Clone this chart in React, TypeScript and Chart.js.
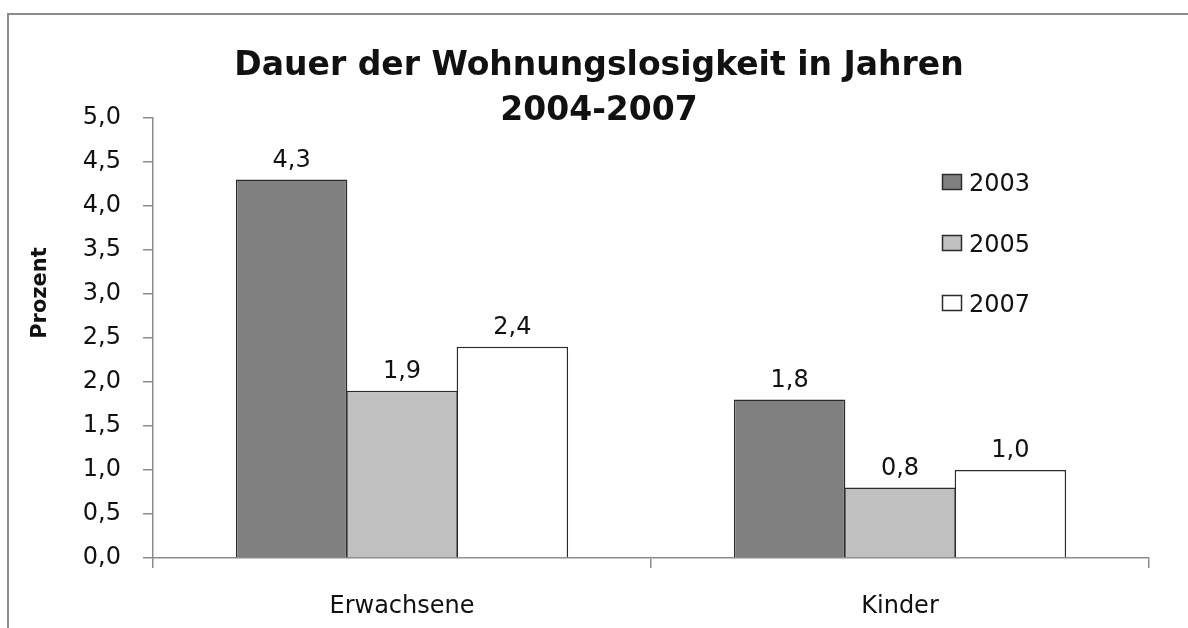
import React, { useEffect, useRef } from 'react';
import { Chart, registerables } from 'chart.js';

Chart.register(...registerables);

// ---- data ----
const categories = ['Erwachsene', 'Kinder'];
const seriesLabels = ['2003', '2005', '2007'];
const values2003 = [4.3, 1.8];
const values2005 = [1.9, 0.8];
const values2007 = [2.4, 1.0];
const titleLines = ['Dauer der Wohnungslosigkeit in Jahren', '2004-2007'];
const yAxisTitle = 'Prozent';
const yMin = 0;
const yMax = 5;
const yStep = 0.5;
const seriesColors = ['#808080', '#c0c0c0', '#ffffff'];

const FONT = '"DejaVu Sans", sans-serif';
const AXIS_COLOR = '#8c8c8c';
const TEXT_COLOR = '#111111';
const fmt = (v: number) => v.toFixed(1).replace('.', ',');

const decorPlugin = {
  id: 'decor',
  beforeDraw(chart: any) {
    const ctx = chart.ctx as CanvasRenderingContext2D;
    ctx.save();
    ctx.fillStyle = '#ffffff';
    ctx.fillRect(0, 0, chart.width, chart.height);
    ctx.fillStyle = '#8a8a8a';
    ctx.fillRect(7, 13, 2, chart.height);
    ctx.fillRect(7, 13, chart.width, 2);
    ctx.restore();
  },
  afterDraw(chart: any) {
    const ctx = chart.ctx as CanvasRenderingContext2D;
    ctx.save();
    // title
    ctx.fillStyle = TEXT_COLOR;
    ctx.textAlign = 'center';
    ctx.textBaseline = 'alphabetic';
    ctx.font = `bold 33px ${FONT}`;
    ctx.fillText(titleLines[0], 599, 75);
    ctx.fillText(titleLines[1], 599, 120);

    // y axis title
    ctx.save();
    ctx.translate(41, 293);
    ctx.rotate(-Math.PI / 2);
    ctx.font = `bold 21px ${FONT}`;
    ctx.textBaseline = 'middle';
    ctx.fillText(yAxisTitle, 0, 0);
    ctx.restore();

    // data labels
    ctx.font = `24px ${FONT}`;
    ctx.textAlign = 'center';
    ctx.textBaseline = 'alphabetic';
    chart.data.datasets.forEach((ds: any, di: number) => {
      const meta = chart.getDatasetMeta(di);
      meta.data.forEach((el: any, i: number) => {
        ctx.fillText(fmt(ds.data[i]), el.x, el.y - 13);
      });
    });

    // legend
    const legendY = [182, 243, 303];
    chart.data.datasets.forEach((ds: any, di: number) => {
      const cy = legendY[di];
      ctx.fillStyle = ds.backgroundColor;
      ctx.fillRect(942, cy - 8, 20, 16);
      ctx.strokeStyle = '#2b2b2b';
      ctx.lineWidth = 1.5;
      ctx.strokeRect(942.5, cy - 7.5, 19, 15);
      ctx.fillStyle = TEXT_COLOR;
      ctx.textAlign = 'left';
      ctx.fillText(ds.label, 969, cy + 9);
    });
    ctx.restore();
  },
};

export default function App() {
  const canvasRef = useRef<HTMLCanvasElement | null>(null);

  useEffect(() => {
    if (!canvasRef.current) return;
    const valueSets = [values2003, values2005, values2007];
    const chart = new Chart(canvasRef.current, {
      type: 'bar',
      data: {
        labels: categories,
        datasets: seriesLabels.map((label, i) => ({
          label,
          data: valueSets[i],
          backgroundColor: seriesColors[i],
          borderColor: '#2b2b2b',
          borderWidth: 1.5,
          categoryPercentage: 0.665,
          barPercentage: 1.01,
        })),
      },
      options: {
        responsive: false,
        animation: false,
        devicePixelRatio: 1,
        layout: { padding: { top: 118, right: 39, left: 0, bottom: 0 } },
        plugins: {
          legend: { display: false },
          title: { display: false },
          tooltip: { enabled: false },
        },
        scales: {
          x: {
            offset: true,
            grid: {
              display: true,
              drawOnChartArea: false,
              offset: true,
              tickLength: 10,
              color: AXIS_COLOR,
              lineWidth: 1.5,
            },
            border: { display: true, color: AXIS_COLOR, width: 1.5 },
            ticks: {
              color: TEXT_COLOR,
              font: { family: FONT, size: 24 },
              padding: 24,
              maxRotation: 0,
            },
            afterFit(scale: any) {
              scale.height = 70;
            },
          },
          y: {
            min: yMin,
            max: yMax,
            grid: {
              display: true,
              drawOnChartArea: false,
              tickLength: 10,
              color: AXIS_COLOR,
              lineWidth: 1.5,
            },
            border: { display: true, color: AXIS_COLOR, width: 1.5 },
            ticks: {
              stepSize: yStep,
              color: TEXT_COLOR,
              font: { family: FONT, size: 24 },
              padding: 22,
              callback: (v: any) => fmt(Number(v)),
            },
            afterFit(scale: any) {
              scale.width = 153;
            },
          },
        },
      },
      plugins: [decorPlugin],
    });
    return () => chart.destroy();
  }, []);

  return (
    <div style={{ position: 'fixed', left: 0, top: 0, width: 1188, height: 628, background: '#fff' }}>
      <canvas ref={canvasRef} width={1188} height={628} style={{ display: 'block' }} />
    </div>
  );
}
